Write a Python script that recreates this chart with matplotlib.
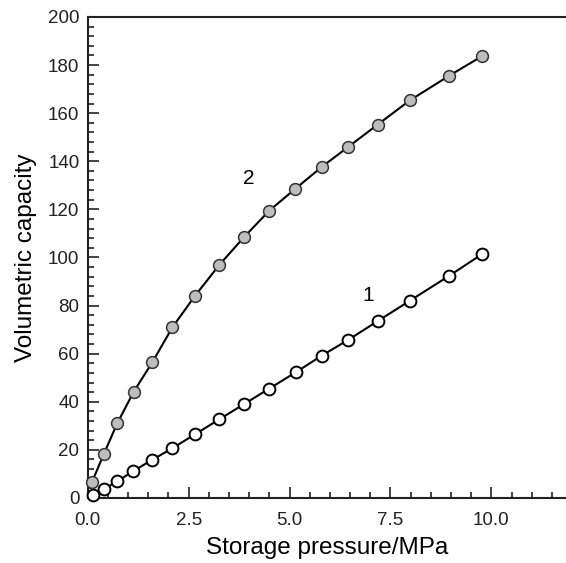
import numpy as np
import matplotlib
matplotlib.use("Agg")
from matplotlib import pyplot as plt
from matplotlib.ticker import MultipleLocator

# kurve 1 (bos daireler) ve kurve 2 (gri daireler)
p1 = [0.12, 0.40, 0.73, 1.12, 1.60, 2.10, 2.66, 3.26, 3.88, 4.50, 5.16,
      5.80, 6.45, 7.19, 7.98, 8.95, 9.78]
v1 = [1.2, 3.7, 6.9, 11.1, 15.9, 20.7, 26.5, 32.7, 39.1, 45.5, 52.3,
      59.2, 65.7, 73.6, 82.0, 92.3, 101.5]

p2 = [0.11, 0.40, 0.73, 1.14, 1.60, 2.10, 2.66, 3.26, 3.87, 4.50, 5.14,
      5.81, 6.45, 7.18, 7.98, 8.95, 9.78]
v2 = [6.8, 18.3, 31.0, 44.2, 56.4, 71.0, 84.1, 96.9, 108.4, 119.5, 128.5,
      137.8, 145.9, 155.2, 165.3, 175.5, 183.8]

xticks = [0.0, 2.5, 5.0, 7.5, 10.0]
yticks = [0, 20, 40, 60, 80, 100, 120, 140, 160, 180, 200]

plt.rcParams['font.family'] = ['Liberation Sans', 'DejaVu Sans']

fig = plt.figure(figsize=(5.66, 5.63), dpi=100)
ax = fig.add_axes([0.155, 0.1155, 0.845, 0.8544])

ax.plot(p1, v1, '-o', color='black', lw=1.5, ms=8.5, mfc='white',
        mec='black', mew=1.4, clip_on=False, zorder=3)
ax.plot(p2, v2, '-o', color='black', lw=1.5, ms=8.5, mfc='#bdbdbd',
        mec='#333333', mew=1.1, clip_on=False, zorder=3)

ax.text(6.95, 84, "1", fontsize=15, ha='center', va='center')
ax.text(3.98, 133, "2", fontsize=15, ha='center', va='center')

ax.set_xlim(0, 11.85)
ax.set_ylim(0, 200)
ax.set_xticks(xticks)
ax.set_xticklabels(["%.1f" % t for t in xticks])
ax.set_yticks(yticks)
ax.xaxis.set_minor_locator(MultipleLocator(0.5))
ax.yaxis.set_minor_locator(MultipleLocator(4))
ax.tick_params(which='both', direction='in', labelsize=13.5, width=1.2,
               top=False, right=False, colors='#222222')
ax.tick_params(which='major', length=8, pad=6)
ax.tick_params(which='minor', length=4)
ax.tick_params(axis='x', which='major', pad=10)

for s in ['left', 'bottom', 'top']:
    ax.spines[s].set_linewidth(1.5)
    ax.spines[s].set_color('#222222')
ax.spines['right'].set_visible(False)

ax.set_xlabel("Storage pressure/MPa", fontsize=17.5, labelpad=6)
ax.set_ylabel("Volumetric capacity", fontsize=17.5, labelpad=8)

fig.savefig("out.png", dpi=100)
